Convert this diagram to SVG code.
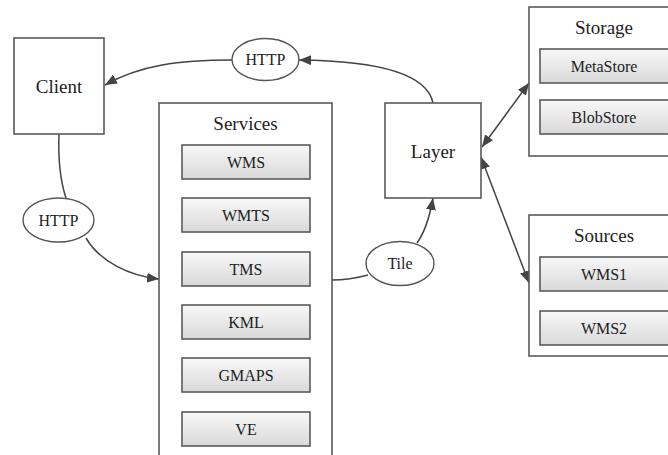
<svg xmlns="http://www.w3.org/2000/svg" width="668" height="455" viewBox="0 0 668 455">
<style>
.box{fill:#fff;stroke:#5a5a5a;stroke-width:1.6}
.inner{fill:url(#g);stroke:#5a5a5a;stroke-width:1.6}
.el{fill:#fff;stroke:#555;stroke-width:1.4}
.t{font-family:"Liberation Serif","Times New Roman",serif;fill:#222;text-anchor:middle}
.big{font-size:19px}
.sm{font-size:16px}
.e{fill:none;stroke:#444;stroke-width:1.5}
</style>
<defs>
<linearGradient id="g" x1="0" y1="0" x2="0" y2="1">
<stop offset="0" stop-color="#f8f8f8"/>
<stop offset="1" stop-color="#d9d9d9"/>
</linearGradient>
<marker id="ah" viewBox="0 0 12 10" refX="12" refY="5" markerWidth="12" markerHeight="10" markerUnits="userSpaceOnUse" orient="auto-start-reverse">
<path d="M0,0 L12,5 L0,10 z" fill="#444"/>
</marker>
</defs>
<g id="connectors">
<path class="e" d="M433,103 C428,78 392,61 299,60" marker-end="url(#ah)"/>
<path class="e" d="M232,60 C180,60 140,65 105,85" marker-end="url(#ah)"/>
<path class="e" d="M59,134 C58,160 60,180 66,198"/>
<path class="e" d="M86,238 C100,262 130,276 159,279" marker-end="url(#ah)"/>
<path class="e" d="M332,280 C345,280 357,278 368,275"/>
<path class="e" d="M417,243 C425,232 430,215 433,198" marker-end="url(#ah)"/>
<path class="e" d="M482,147 L529,83" marker-start="url(#ah)" marker-end="url(#ah)"/>
<path class="e" d="M481,157 L529,283" marker-start="url(#ah)" marker-end="url(#ah)"/>
</g>
<g id="client">
<rect class="box" x="14" y="38" width="90" height="96"/>
<text class="t big" x="59" y="93">Client</text>
</g>
<g id="http_top">
<ellipse class="el" cx="265.5" cy="59.5" rx="33.5" ry="21"/>
<text class="t sm" x="265.5" y="65">HTTP</text>
</g>
<g id="http_left">
<ellipse class="el" cx="58.5" cy="220" rx="35.5" ry="22"/>
<text class="t sm" x="58.5" y="225.5">HTTP</text>
</g>
<g id="tile">
<ellipse class="el" cx="400" cy="263.5" rx="34" ry="22"/>
<text class="t sm" x="400" y="269">Tile</text>
</g>
<g id="services">
<rect class="box" x="159" y="103" width="173" height="362"/>
<text class="t big" x="245.5" y="130">Services</text>
<g id="wms"><rect class="inner" x="182" y="145" width="128" height="34"/><text class="t sm" x="246" y="167.5">WMS</text></g>
<g id="wmts"><rect class="inner" x="182" y="198" width="128" height="34"/><text class="t sm" x="246" y="220.5">WMTS</text></g>
<g id="tms"><rect class="inner" x="182" y="252" width="128" height="34"/><text class="t sm" x="246" y="274.5">TMS</text></g>
<g id="kml"><rect class="inner" x="182" y="305" width="128" height="34"/><text class="t sm" x="246" y="327.5">KML</text></g>
<g id="gmaps"><rect class="inner" x="182" y="358" width="128" height="34"/><text class="t sm" x="246" y="380.5">GMAPS</text></g>
<g id="ve"><rect class="inner" x="182" y="412" width="128" height="34"/><text class="t sm" x="246" y="434.5">VE</text></g>
</g>
<g id="layer">
<rect class="box" x="385" y="103" width="96" height="95"/>
<text class="t big" x="433" y="158">Layer</text>
</g>
<g id="storage">
<rect class="box" x="529" y="7" width="152" height="149"/>
<text class="t big" x="604" y="34">Storage</text>
<g id="metastore"><rect class="inner" x="540" y="49" width="130" height="34"/><text class="t sm" x="604" y="71.5">MetaStore</text></g>
<g id="blobstore"><rect class="inner" x="540" y="100" width="130" height="34"/><text class="t sm" x="604" y="122.5">BlobStore</text></g>
</g>
<g id="sources">
<rect class="box" x="529" y="215" width="152" height="141"/>
<text class="t big" x="604" y="242">Sources</text>
<g id="wms1"><rect class="inner" x="540" y="257" width="130" height="34"/><text class="t sm" x="604" y="279.5">WMS1</text></g>
<g id="wms2"><rect class="inner" x="540" y="311" width="130" height="34"/><text class="t sm" x="604" y="333.5">WMS2</text></g>
</g>
</svg>
